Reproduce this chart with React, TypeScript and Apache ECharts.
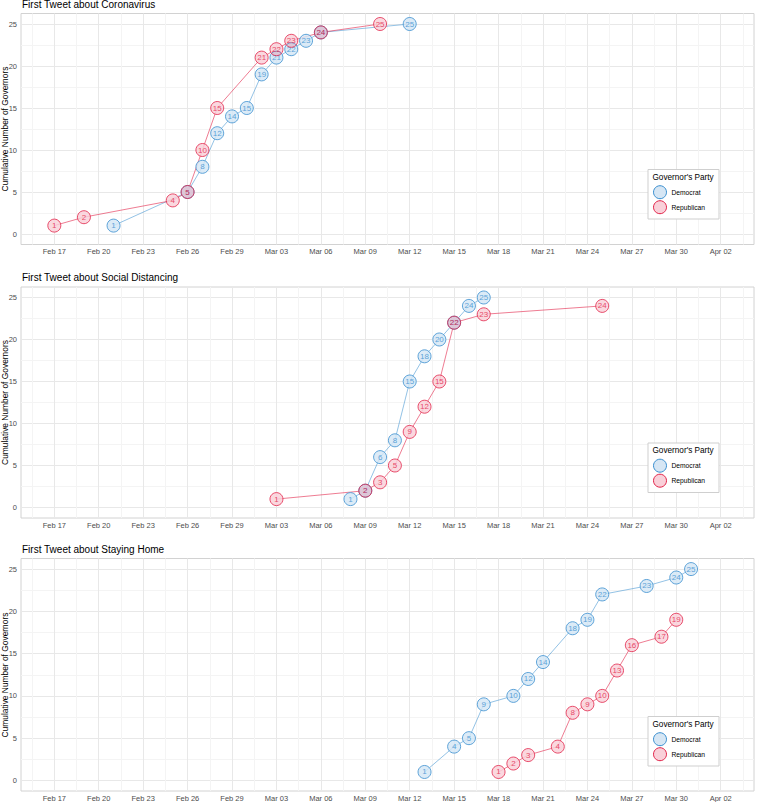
import React, { useEffect, useRef } from 'react';
import * as echarts from 'echarts';

// ---------- data ----------
const coronaDemDates = ['2020-02-21', '2020-02-26', '2020-02-27', '2020-02-28', '2020-02-29', '2020-03-01', '2020-03-02', '2020-03-03', '2020-03-04', '2020-03-05', '2020-03-06', '2020-03-12'];
const coronaDemCounts = [1, 5, 8, 12, 14, 15, 19, 21, 22, 23, 24, 25];
const coronaRepDates = ['2020-02-17', '2020-02-19', '2020-02-25', '2020-02-26', '2020-02-27', '2020-02-28', '2020-03-02', '2020-03-03', '2020-03-04', '2020-03-06', '2020-03-10'];
const coronaRepCounts = [1, 2, 4, 5, 10, 15, 21, 22, 23, 24, 25];

const distDemDates = ['2020-03-08', '2020-03-09', '2020-03-10', '2020-03-11', '2020-03-12', '2020-03-13', '2020-03-14', '2020-03-15', '2020-03-16', '2020-03-17'];
const distDemCounts = [1, 2, 6, 8, 15, 18, 20, 22, 24, 25];
const distRepDates = ['2020-03-03', '2020-03-09', '2020-03-10', '2020-03-11', '2020-03-12', '2020-03-13', '2020-03-14', '2020-03-15', '2020-03-17', '2020-03-25'];
const distRepCounts = [1, 2, 3, 5, 9, 12, 15, 22, 23, 24];

const homeDemDates = ['2020-03-13', '2020-03-15', '2020-03-16', '2020-03-17', '2020-03-19', '2020-03-20', '2020-03-21', '2020-03-23', '2020-03-24', '2020-03-25', '2020-03-28', '2020-03-30', '2020-03-31'];
const homeDemCounts = [1, 4, 5, 9, 10, 12, 14, 18, 19, 22, 23, 24, 25];
const homeRepDates = ['2020-03-18', '2020-03-19', '2020-03-20', '2020-03-22', '2020-03-23', '2020-03-24', '2020-03-25', '2020-03-26', '2020-03-27', '2020-03-29', '2020-03-30'];
const homeRepCounts = [1, 2, 3, 4, 8, 9, 10, 13, 16, 17, 19];

const panelTitles = ['First Tweet about Coronavirus', 'First Tweet about Social Distancing', 'First Tweet about Staying Home'];
const yAxisTitle = 'Cumulative Number of Governors';
const legendTitle = "Governor's Party";
const partyNames = ['Democrat', 'Republican'];
const xFirstDate = '2020-02-17';
const xLastDate = '2020-04-02';
const yMaxValue = 25;
const monthNames = ['Jan', 'Feb', 'Mar', 'Apr', 'May', 'Jun', 'Jul', 'Aug', 'Sep', 'Oct', 'Nov', 'Dec'];

// ---------- helpers ----------
const DAY = 86400000;
const toUTC = (s: string) => {
  const [y, m, d] = s.split('-').map(Number);
  return Date.UTC(y, m - 1, d);
};
const base = toUTC(xFirstDate);
const dayOf = (s: string) => Math.round((toUTC(s) - base) / DAY);
const pts = (dates: string[], counts: number[]) => dates.map((d, i) => [dayOf(d), counts[i]]);

const FONT = '"Liberation Sans", Arial, Helvetica, sans-serif';
const DEM = '#3a8fd0';
const DEM_FILL = 'rgba(58,143,208,0.22)';
const DEM_LINE = 'rgba(58,143,208,0.55)';
const REP = '#e2244a';
const REP_FILL = 'rgba(226,36,74,0.22)';
const REP_LINE = 'rgba(226,36,74,0.6)';
const MAJOR = '#e8e8e8';
const MINOR = '#f4f4f4';

const App: React.FC = () => {
  const ref = useRef<HTMLDivElement>(null);
  useEffect(() => {
    if (!ref.current) return;
    const chart = echarts.init(ref.current, undefined, { renderer: 'svg' });

    const span = dayOf(xLastDate);
    const xMin = -span * 0.05;
    const xMax = span * 1.05;
    const yMin = -yMaxValue * 0.05;
    const yMax = yMaxValue * 1.05;

    const panels = [
      { dem: pts(coronaDemDates, coronaDemCounts), rep: pts(coronaRepDates, coronaRepCounts) },
      { dem: pts(distDemDates, distDemCounts), rep: pts(distRepDates, distRepCounts) },
      { dem: pts(homeDemDates, homeDemCounts), rep: pts(homeRepDates, homeRepCounts) },
    ];
    const tops = [13.5, 287, 558.5];
    const heights = [231, 231, 233];
    const left = 21;
    const right = 1;

    const xFmt = (v: number) => {
      const r = Math.round(v);
      if (Math.abs(v - r) > 1e-6 || r % 3 !== 0) return '';
      const d = new Date(base + r * DAY);
      return monthNames[d.getUTCMonth()] + ' ' + String(d.getUTCDate()).padStart(2, '0');
    };
    const yFmt = (v: number) => {
      const r = Math.round(v);
      if (Math.abs(v - r) > 1e-6 || r % 5 !== 0) return '';
      return String(r);
    };

    const labelStyle = (color: string) => ({
      show: true, position: 'inside', formatter: (q: any) => String(q.value[1]),
      color, fontSize: 8, fontFamily: FONT,
      textBorderWidth: 0, textBorderColor: 'transparent', textShadowBlur: 0,
    });

    const grids: any[] = [];
    const xAxes: any[] = [];
    const yAxes: any[] = [];
    const series: any[] = [];
    const graphics: any[] = [];

    panels.forEach((p, i) => {
      grids.push({
        left, right, top: tops[i], height: heights[i],
        show: true, borderColor: '#d2d2d2', borderWidth: 1, backgroundColor: '#ffffff',
      });
      xAxes.push({
        type: 'value', gridIndex: i, min: xMin, max: xMax, interval: 0.75,
        axisLine: { show: false }, axisTick: { show: false },
        axisLabel: { formatter: xFmt, fontSize: 7.5, color: '#4d4d4d', margin: 3, fontFamily: FONT },
        splitLine: { show: true, lineStyle: { width: 1, color: ['rgba(0,0,0,0)', MINOR, 'rgba(0,0,0,0)', MAJOR] } },
      });
      yAxes.push({
        type: 'value', gridIndex: i, min: yMin, max: yMax, interval: 1.25,
        axisLine: { show: false }, axisTick: { show: false },
        axisLabel: { formatter: yFmt, fontSize: 7.5, color: '#4d4d4d', margin: 4, fontFamily: FONT },
        splitLine: { show: true, lineStyle: { width: 1, color: ['rgba(0,0,0,0)', MAJOR, 'rgba(0,0,0,0)', MINOR] } },
      });
      series.push(
        { type: 'line', xAxisIndex: i, yAxisIndex: i, data: p.dem, showSymbol: false, silent: true, z: 2,
          lineStyle: { color: DEM_LINE, width: 1 } },
        { type: 'line', xAxisIndex: i, yAxisIndex: i, data: p.rep, showSymbol: false, silent: true, z: 2,
          lineStyle: { color: REP_LINE, width: 1 } },
        { type: 'scatter', xAxisIndex: i, yAxisIndex: i, data: p.dem.concat(p.rep), symbol: 'circle', symbolSize: 13, z: 3, silent: true,
          itemStyle: { color: '#ffffff', borderWidth: 0 } },
        { type: 'scatter', name: partyNames[0], xAxisIndex: i, yAxisIndex: i, data: p.dem, symbol: 'circle', symbolSize: 13, z: 4,
          itemStyle: { color: DEM_FILL, borderColor: DEM, borderWidth: 1 },
          label: labelStyle(DEM) },
        { type: 'scatter', name: partyNames[1], xAxisIndex: i, yAxisIndex: i, data: p.rep, symbol: 'circle', symbolSize: 13, z: 5,
          itemStyle: { color: REP_FILL, borderColor: REP, borderWidth: 1 },
          label: labelStyle(REP) },
      );

      const top = tops[i];
      const bottom = top + heights[i];
      graphics.push({
        type: 'text', x: left + 1, y: top - 9.5, z: 10,
        style: { text: panelTitles[i], font: `10px ${FONT}`, fill: '#000', align: 'left', verticalAlign: 'middle' },
      });
      graphics.push({
        type: 'text', x: 4.5, y: top + heights[i] / 2, rotation: Math.PI / 2, z: 10,
        style: { text: yAxisTitle, font: `8.4px ${FONT}`, fill: '#000', align: 'center', verticalAlign: 'middle' },
      });
      const lt = bottom - 25.5 - 49.5;
      graphics.push({
        type: 'group', z: 10,
        children: [
          { type: 'rect', z: 10, shape: { x: 648, y: lt, width: 71, height: 49.5 }, style: { fill: '#ffffff', stroke: '#cfcfcf', lineWidth: 1 } },
          { type: 'text', z: 11, x: 652.5, y: lt + 7.5, style: { text: legendTitle, font: `8.2px ${FONT}`, fill: '#000', verticalAlign: 'middle' } },
          { type: 'circle', z: 11, shape: { cx: 660, cy: lt + 22.7, r: 6.5 }, style: { fill: '#d6e6f4', stroke: DEM, lineWidth: 1 } },
          { type: 'text', z: 11, x: 671.5, y: lt + 22.7, style: { text: partyNames[0], font: `6.7px ${FONT}`, fill: '#000', verticalAlign: 'middle' } },
          { type: 'circle', z: 11, shape: { cx: 660, cy: lt + 37.7, r: 6.5 }, style: { fill: '#f9d0d9', stroke: REP, lineWidth: 1 } },
          { type: 'text', z: 11, x: 671.5, y: lt + 37.7, style: { text: partyNames[1], font: `6.7px ${FONT}`, fill: '#000', verticalAlign: 'middle' } },
        ],
      });
    });

    chart.setOption({
      animation: false,
      backgroundColor: '#ffffff',
      grid: grids,
      xAxis: xAxes,
      yAxis: yAxes,
      series,
      graphic: graphics,
    });
    return () => chart.dispose();
  }, []);
  return <div ref={ref} style={{ position: 'fixed', left: 0, top: 0, width: 757, height: 802 }} />;
};

export default App;
